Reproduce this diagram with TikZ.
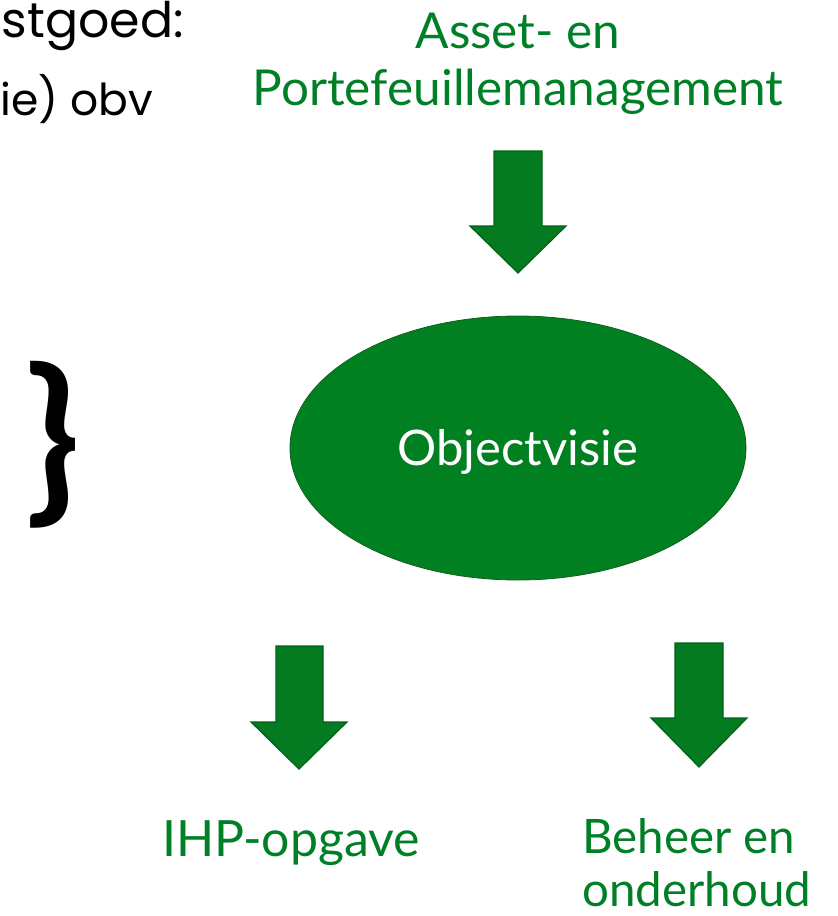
\documentclass[tikz,border=0pt]{standalone}
\usepackage{fontspec}
\setmainfont{Lato}
\newfontfamily\geofont{Poppins}
\usetikzlibrary{shapes.geometric}
\definecolor{txtgreen}{RGB}{0,128,38}
\definecolor{arrowfill}{RGB}{4,122,33}
\definecolor{arrowline}{RGB}{0,98,22}
\definecolor{ellfill}{RGB}{0,128,32}
\definecolor{ellline}{RGB}{16,96,28}
\tikzset{
  greentext/.style={text=txtgreen, inner sep=0pt, font=\fontsize{47.5}{57}\selectfont},
  blackgeo/.style={text=black, inner sep=0pt},
  blockarrow/.style={fill=arrowfill, draw=arrowline, line width=1.2pt, line join=miter},
  visionellipse/.style={ellipse, fill=ellfill, draw=ellline, line width=0.8pt,
     minimum width=456pt, minimum height=264pt, inner sep=0pt,
     text=white, font=\fontsize{49}{58}\selectfont, text height=35pt, text depth=0pt}
}
\begin{document}
\begin{tikzpicture}[x=1pt,y=-1pt]
\useasboundingbox (0,0) rectangle (838,916);
% top-left partial texts
\node[blackgeo, anchor=base east, font=\geofont\fontsize{49}{56}\selectfont] (title) at (184,37) {stgoed:};
\node[blackgeo, anchor=base east, font=\geofont\fontsize{44}{50}\selectfont] (sub) at (153,115) {ie) obv};
% brace
\node[blackgeo, font=\bfseries\fontsize{180}{190}\selectfont] (brace) at (53,445) {\}};
% top label
\node[greentext, anchor=base, font=\fontsize{49.5}{57}\selectfont] (asset1) at (518,48) {Asset- en};
\node[greentext, anchor=base, font=\fontsize{49.5}{57}\selectfont] (asset2) at (518,105) {Portefeuillemanagement};
% ellipse
\node[visionellipse] (vision) at (518,448) {Objectvisie};
% bottom labels
\node[greentext, anchor=base, font=\fontsize{50}{57}\selectfont] (ihp) at (291,856) {IHP-opgave};
\node[greentext, anchor=base west] (beheer1) at (582,853) {Beheer en};
\node[greentext, anchor=base west, text depth=0pt] (beheer2) at (582,906) {onderhoud};
% block arrows
\draw[blockarrow] (494,151) -- (542,151) -- (542,226) -- (566,226) -- (518,273) -- (470,226) -- (494,226) -- cycle;
\draw[blockarrow] (276,646) -- (323,646) -- (323,722) -- (347,722) -- (299,769) -- (251,722) -- (276,722) -- cycle;
\draw[blockarrow] (675,643) -- (723,643) -- (723,718) -- (747,718) -- (699,767) -- (651,718) -- (675,718) -- cycle;
\end{tikzpicture}
\end{document}
